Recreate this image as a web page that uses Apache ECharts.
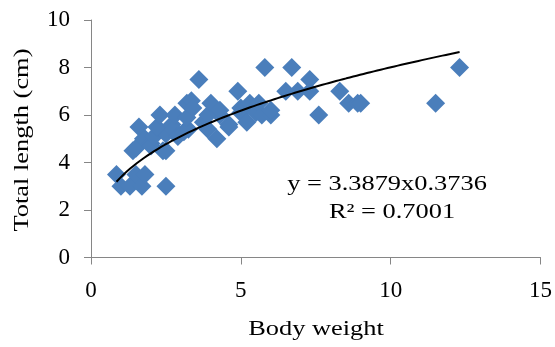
<!DOCTYPE html>
<html><head><meta charset="utf-8">
<script src="https://cdn.jsdelivr.net/npm/echarts@6/dist/echarts.min.js"></script>
<style>html,body{margin:0;padding:0;background:#fff}#c{width:555px;height:347px}</style>
</head><body><div id="c"></div>
<script>
var bodyWeight = [0.85,1.0,1.3,1.5,1.7,1.8,2.5,1.4,1.5,1.6,1.75,1.8,2.0,2.0,2.1,2.4,2.5,2.2,2.3,2.5,2.7,2.75,2.8,2.9,3.1,3.25,3.2,3.2,3.35,3.4,3.6,3.75,3.9,3.9,4.0,4.2,4.3,4.3,4.6,4.6,4.9,5.0,5.0,5.2,5.3,5.5,5.6,5.7,5.8,6.0,6.0,6.5,6.7,6.9,7.3,7.3,7.6,8.3,8.6,8.9,9.0,11.5,12.3];
var totalLength = [3.5,3.0,3.0,3.5,3.0,3.5,3.0,4.5,4.6,5.5,5.0,5.0,4.8,4.7,5.1,4.5,5.2,5.5,6.0,4.5,5.6,5.4,6.0,5.1,5.3,5.4,5.9,6.5,6.6,6.3,7.5,5.7,5.4,6.0,6.5,5.0,6.0,6.2,5.6,5.5,7.0,6.3,6.1,5.7,6.5,6.1,6.5,6.0,8.0,6.0,6.2,7.0,8.0,7.0,7.5,7.0,6.0,7.0,6.5,6.5,6.5,6.5,8.0];
var xTicks = [0,5,10,15];
var yTicks = [0,2,4,6,8,10];
var xTitle = 'Body weight';
var yTitle = 'Total length (cm)';
var trendA = 3.3879, trendB = 0.3736;
var trendStart = 0.85, trendEnd = 12.3;
var eqText = 'y = 3.3879x0.3736';
var r2Text = 'R² = 0.7001';

var pts = bodyWeight.map(function(x,i){return [x,totalLength[i]];});
var trend = [];
for (var k=0;k<=100;k++){var x=trendStart+(trendEnd-trendStart)*k/100;trend.push([x,trendA*Math.pow(x,trendB)]);}

var font = '"Liberation Serif","Times New Roman",serif';
var axisCol = '#868686';
var sx = 1.2;
function txt(t,x,y,rot){
  return {type:'text',x:x,y:y,rotation:rot||0,scaleX:sx,scaleY:1,
    style:{text:t,fontFamily:font,fontSize:22,fill:'#000',align:'center',verticalAlign:'middle'}};
}
var chart = echarts.init(document.getElementById('c'), null, {renderer:'canvas'});
chart.setOption({
  animation:false,
  grid:{left:91,right:14,top:20,bottom:89.5,containLabel:false},
  xAxis:{type:'value',min:xTicks[0],max:xTicks[xTicks.length-1],interval:5,
    axisLine:{show:true,onZero:false,lineStyle:{color:axisCol,width:1}},
    axisTick:{show:true,length:7,lineStyle:{color:axisCol}},
    axisLabel:{fontFamily:font,fontSize:23,color:'#000',margin:22},
    splitLine:{show:false}},
  yAxis:{type:'value',min:yTicks[0],max:yTicks[yTicks.length-1],interval:2,
    axisLine:{show:true,lineStyle:{color:axisCol,width:1}},
    axisTick:{show:true,length:7,lineStyle:{color:axisCol}},
    axisLabel:{fontFamily:font,fontSize:23,color:'#000',margin:21},
    splitLine:{show:false}},
  series:[
    {type:'scatter',data:pts,symbol:'diamond',symbolSize:19,itemStyle:{color:'#4A7EBB',opacity:1},z:2},
    {type:'line',data:trend,showSymbol:false,smooth:false,lineStyle:{color:'#000',width:2},z:3}
  ],
  graphic:[
    txt(xTitle,316,329),
    txt(yTitle,22,140,Math.PI/2),
    txt(eqText,387,184),
    txt(r2Text,392,212)
  ]
});
</script></body></html>
